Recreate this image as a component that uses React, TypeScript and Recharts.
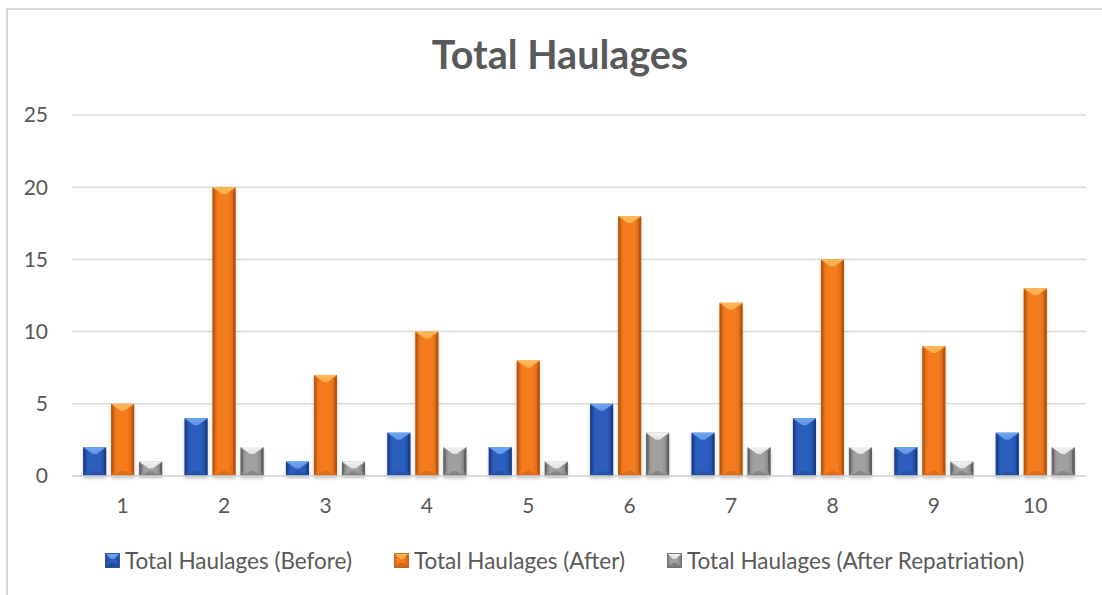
import React from 'react';
import { BarChart, Bar, XAxis, YAxis, CartesianGrid, Legend } from 'recharts';

const categories = ['1', '2', '3', '4', '5', '6', '7', '8', '9', '10'];
const beforeValues = [2, 4, 1, 3, 2, 5, 3, 4, 2, 3];
const afterValues = [5, 20, 7, 10, 8, 18, 12, 15, 9, 13];
const repatriationValues = [1, 2, 1, 2, 1, 3, 2, 2, 1, 2];
const yTicks = [0, 5, 10, 15, 20, 25];
const seriesNames = [
  'Total Haulages (Before)',
  'Total Haulages (After)',
  'Total Haulages (After Repatriation)',
];
const chartTitle = 'Total Haulages';

const data = categories.map((c, i) => ({
  cat: c,
  before: beforeValues[i],
  after: afterValues[i],
  repat: repatriationValues[i],
}));

const FONT = 'Lato, "Open Sans", sans-serif';
const TEXT = '#595959';

type Pal = { id: string; base: string; light: string; dark: string; edge: string };
const palettes: Pal[] = [
  { id: 'blue', base: '#2C5FBE', light: '#6FA6F2', dark: '#17367A', edge: '#21499A' },
  { id: 'orange', base: '#F47C1E', light: '#FDBA5A', dark: '#A94C08', edge: '#CF610F' },
  { id: 'gray', base: '#A0A0A0', light: '#F4F4F4', dark: '#505050', edge: '#7C7C7C' },
];

function Bevel({ x, y, width, height, pal }: any) {
  if (!height || height <= 0) return null;
  const w = width;
  const h = height;
  const bt = Math.min(7, h / 2);
  const bb = Math.min(5, h / 3);
  const s = Math.min(2.5, w / 6);
  const cx = x + w / 2;
  return (
    <g filter="url(#barShadow)">
      <rect x={x} y={y} width={w} height={h} fill={`url(#body-${pal.id})`} />
      <polygon
        points={`${x},${y} ${x + s},${y + bt * 0.6} ${x + s},${y + h - bb} ${x},${y + h}`}
        fill={pal.dark}
        opacity={0.55}
      />
      <polygon
        points={`${x + w},${y} ${x + w - s},${y + bt * 0.6} ${x + w - s},${y + h - bb} ${x + w},${y + h}`}
        fill={pal.dark}
        opacity={0.7}
      />
      <polygon
        points={`${x},${y} ${x + w},${y} ${cx + 2},${y + bt} ${cx - 2},${y + bt}`}
        fill={`url(#top-${pal.id})`}
      />
      <polygon
        points={`${x + s},${y + h} ${x + w - s},${y + h} ${cx + 2},${y + h - bb} ${cx - 2},${y + h - bb}`}
        fill={pal.dark}
        opacity={0.3}
      />
      <rect x={x} y={y + h - 1.2} width={w} height={1.2} fill={pal.dark} opacity={0.6} />
    </g>
  );
}

function LegendMarker({ pal }: { pal: Pal }) {
  return (
    <svg width={15} height={15} style={{ display: 'block' }}>
      <rect x={0.5} y={0.5} width={14} height={14} fill={`url(#body-${pal.id})`} />
      <polygon points="0.5,0.5 14.5,0.5 9,6 6,6" fill={`url(#top-${pal.id})`} />
      <polygon points="0.5,14.5 14.5,14.5 9,10 6,10" fill={pal.dark} opacity={0.45} />
      <rect x={0.5} y={0.5} width={14} height={14} fill="none" stroke={pal.dark} strokeWidth={1} opacity={0.7} />
    </svg>
  );
}

function LegendContent() {
  return (
    <div
      style={{
        display: 'flex',
        alignItems: 'center',
        height: 50,
        paddingLeft: 105,
        fontFamily: FONT,
        fontSize: 22.5,
        color: TEXT,
        whiteSpace: 'nowrap',
      }}
    >
      {seriesNames.map((n, i) => (
        <div key={n} style={{ display: 'flex', alignItems: 'center', marginRight: 42 }}>
          <LegendMarker pal={palettes[i]} />
          <span style={{ marginLeft: 5 }}>{n}</span>
        </div>
      ))}
    </div>
  );
}

function Defs() {
  return (
    <svg width={0} height={0} style={{ position: 'absolute' }}>
      <defs>
        {palettes.map((p) => (
          <React.Fragment key={p.id}>
            <linearGradient id={`body-${p.id}`} x1="0" y1="0" x2="1" y2="0">
              <stop offset="0" stopColor={p.edge} />
              <stop offset="0.25" stopColor={p.base} />
              <stop offset="0.7" stopColor={p.base} />
              <stop offset="1" stopColor={p.edge} />
            </linearGradient>
            <linearGradient id={`top-${p.id}`} x1="0" y1="0" x2="0" y2="1">
              <stop offset="0" stopColor={p.light} />
              <stop offset="1" stopColor={p.light} stopOpacity={0.75} />
            </linearGradient>
          </React.Fragment>
        ))}
        <filter id="barShadow" x="-30%" y="-10%" width="160%" height="130%">
          <feDropShadow dx="0" dy="2.5" stdDeviation="1.5" floodColor="#000" floodOpacity="0.22" />
        </filter>
      </defs>
    </svg>
  );
}

export default function App() {
  return (
    <div style={{ position: 'absolute', left: 0, top: 0, width: 1102, height: 595, background: '#fff', overflow: 'hidden' }}>
      <Defs />
      <div
        style={{
          position: 'absolute',
          left: 6,
          top: 8,
          width: 1200,
          height: 700,
          borderLeft: '2px solid #d9d9d9',
          borderTop: '2px solid #d9d9d9',
        }}
      />
      <svg width={1102} height={100} style={{ position: 'absolute', left: 0, top: 0 }}>
        <text x={560} y={69} textAnchor="middle" fontFamily={FONT} fontWeight={700} fontSize={39.5} fill={TEXT}>
          {chartTitle}
        </text>
      </svg>
      <div style={{ position: 'absolute', left: 0, top: 0 }}>
        <BarChart
          width={1102}
          height={595}
          data={data}
          margin={{ top: 115, right: 16, bottom: 10, left: 0 }}
          barCategoryGap="11%"
          barGap={5}
        >
          <CartesianGrid horizontal vertical={false} stroke="#d9d9d9" strokeWidth={1.5} />
          <XAxis
            dataKey="cat"
            height={59}
            tickLine={false}
            axisLine={{ stroke: '#d9d9d9', strokeWidth: 1.5 }}
            tickSize={0}
            tickMargin={22}
            tick={{ fill: TEXT, fontSize: 21, fontFamily: FONT }}
          />
          <YAxis
            width={72}
            domain={[0, 25]}
            ticks={yTicks}
            axisLine={false}
            tickLine={false}
            tickSize={0}
            tickMargin={24}
            tick={{ fill: TEXT, fontSize: 21, fontFamily: FONT }}
          />
          <Legend verticalAlign="bottom" height={50} content={() => <LegendContent />} />
          <Bar dataKey="before" name={seriesNames[0]} isAnimationActive={false} shape={(p: any) => <Bevel {...p} pal={palettes[0]} />} />
          <Bar dataKey="after" name={seriesNames[1]} isAnimationActive={false} shape={(p: any) => <Bevel {...p} pal={palettes[1]} />} />
          <Bar dataKey="repat" name={seriesNames[2]} isAnimationActive={false} shape={(p: any) => <Bevel {...p} pal={palettes[2]} />} />
        </BarChart>
      </div>
    </div>
  );
}
